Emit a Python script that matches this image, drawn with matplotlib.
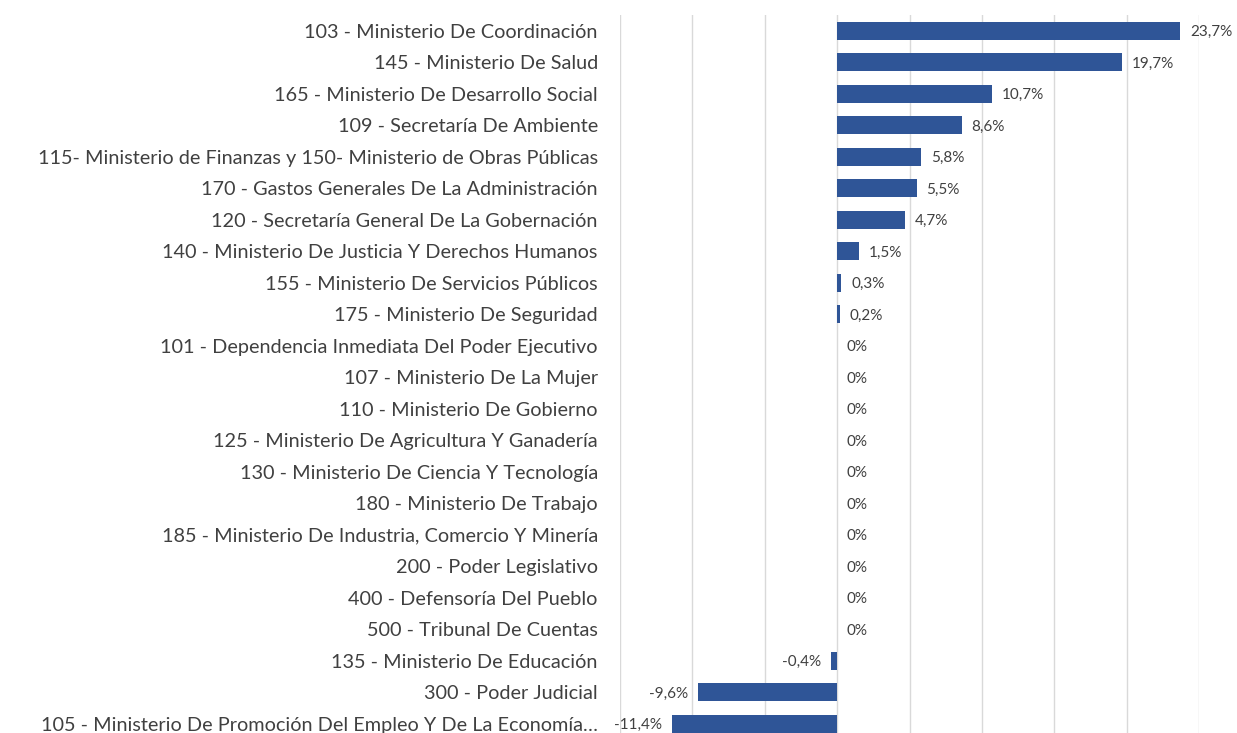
import matplotlib.pyplot as plt
import numpy as np

plt.rcParams['font.family'] = ['Lato', 'DejaVu Sans']

categories = [
    "103 - Ministerio De Coordinación",
    "145 - Ministerio De Salud",
    "165 - Ministerio De Desarrollo Social",
    "109 - Secretaría De Ambiente",
    "115- Ministerio de Finanzas y 150- Ministerio de Obras Públicas",
    "170 - Gastos Generales De La Administración",
    "120 - Secretaría General De La Gobernación",
    "140 - Ministerio De Justicia Y Derechos Humanos",
    "155 - Ministerio De Servicios Públicos",
    "175 - Ministerio De Seguridad",
    "101 - Dependencia Inmediata Del Poder Ejecutivo",
    "107 - Ministerio De La Mujer",
    "110 - Ministerio De Gobierno",
    "125 - Ministerio De Agricultura Y Ganadería",
    "130 - Ministerio De Ciencia Y Tecnología",
    "180 - Ministerio De Trabajo",
    "185 - Ministerio De Industria, Comercio Y Minería",
    "200 - Poder Legislativo",
    "400 - Defensoría Del Pueblo",
    "500 - Tribunal De Cuentas",
    "135 - Ministerio De Educación",
    "300 - Poder Judicial",
    "105 - Ministerio De Promoción Del Empleo Y De La Economía…",
]
values = [23.7, 19.7, 10.7, 8.6, 5.8, 5.5, 4.7, 1.5, 0.3, 0.2, 0.01,
          0, 0, 0, 0, 0, 0, 0, 0, 0, -0.4, -9.6, -11.4]


def fmt(v):
    if abs(v) < 0.05:
        return "0%"
    return f"{v:.1f}".replace(".", ",") + "%"


fig = plt.figure(figsize=(12.37, 7.33), dpi=100)
ax = fig.add_axes([620 / 1237, 0, 579 / 1237, (733 - 15) / 733])

y = np.arange(len(categories))
ax.barh(y, values, height=0.57, color="#2f5597", zorder=3)

ax.set_xlim(-15, 25)
ax.set_ylim(22.29, -0.5)
ax.set_xticks(np.arange(-15, 26, 5))
ax.xaxis.grid(True, color="#d9d9d9", linewidth=1, zorder=0)
ax.tick_params(axis="x", length=0, labelbottom=False)
ax.tick_params(axis="y", length=0, pad=16)
ax.set_yticks(y)
ax.set_yticklabels(categories, fontsize=14.3, color="#404040")
for s in ax.spines.values():
    s.set_visible(False)

for yi, v in zip(y, values):
    if v < 0:
        ax.annotate(fmt(v), (v, yi), xytext=(-7, -1), textcoords="offset points",
                    ha="right", va="center", fontsize=11, color="#404040")
    else:
        ax.annotate(fmt(v), (v, yi), xytext=(7, -1), textcoords="offset points",
                    ha="left", va="center", fontsize=11, color="#404040")

fig.savefig("out.png", dpi=100)
